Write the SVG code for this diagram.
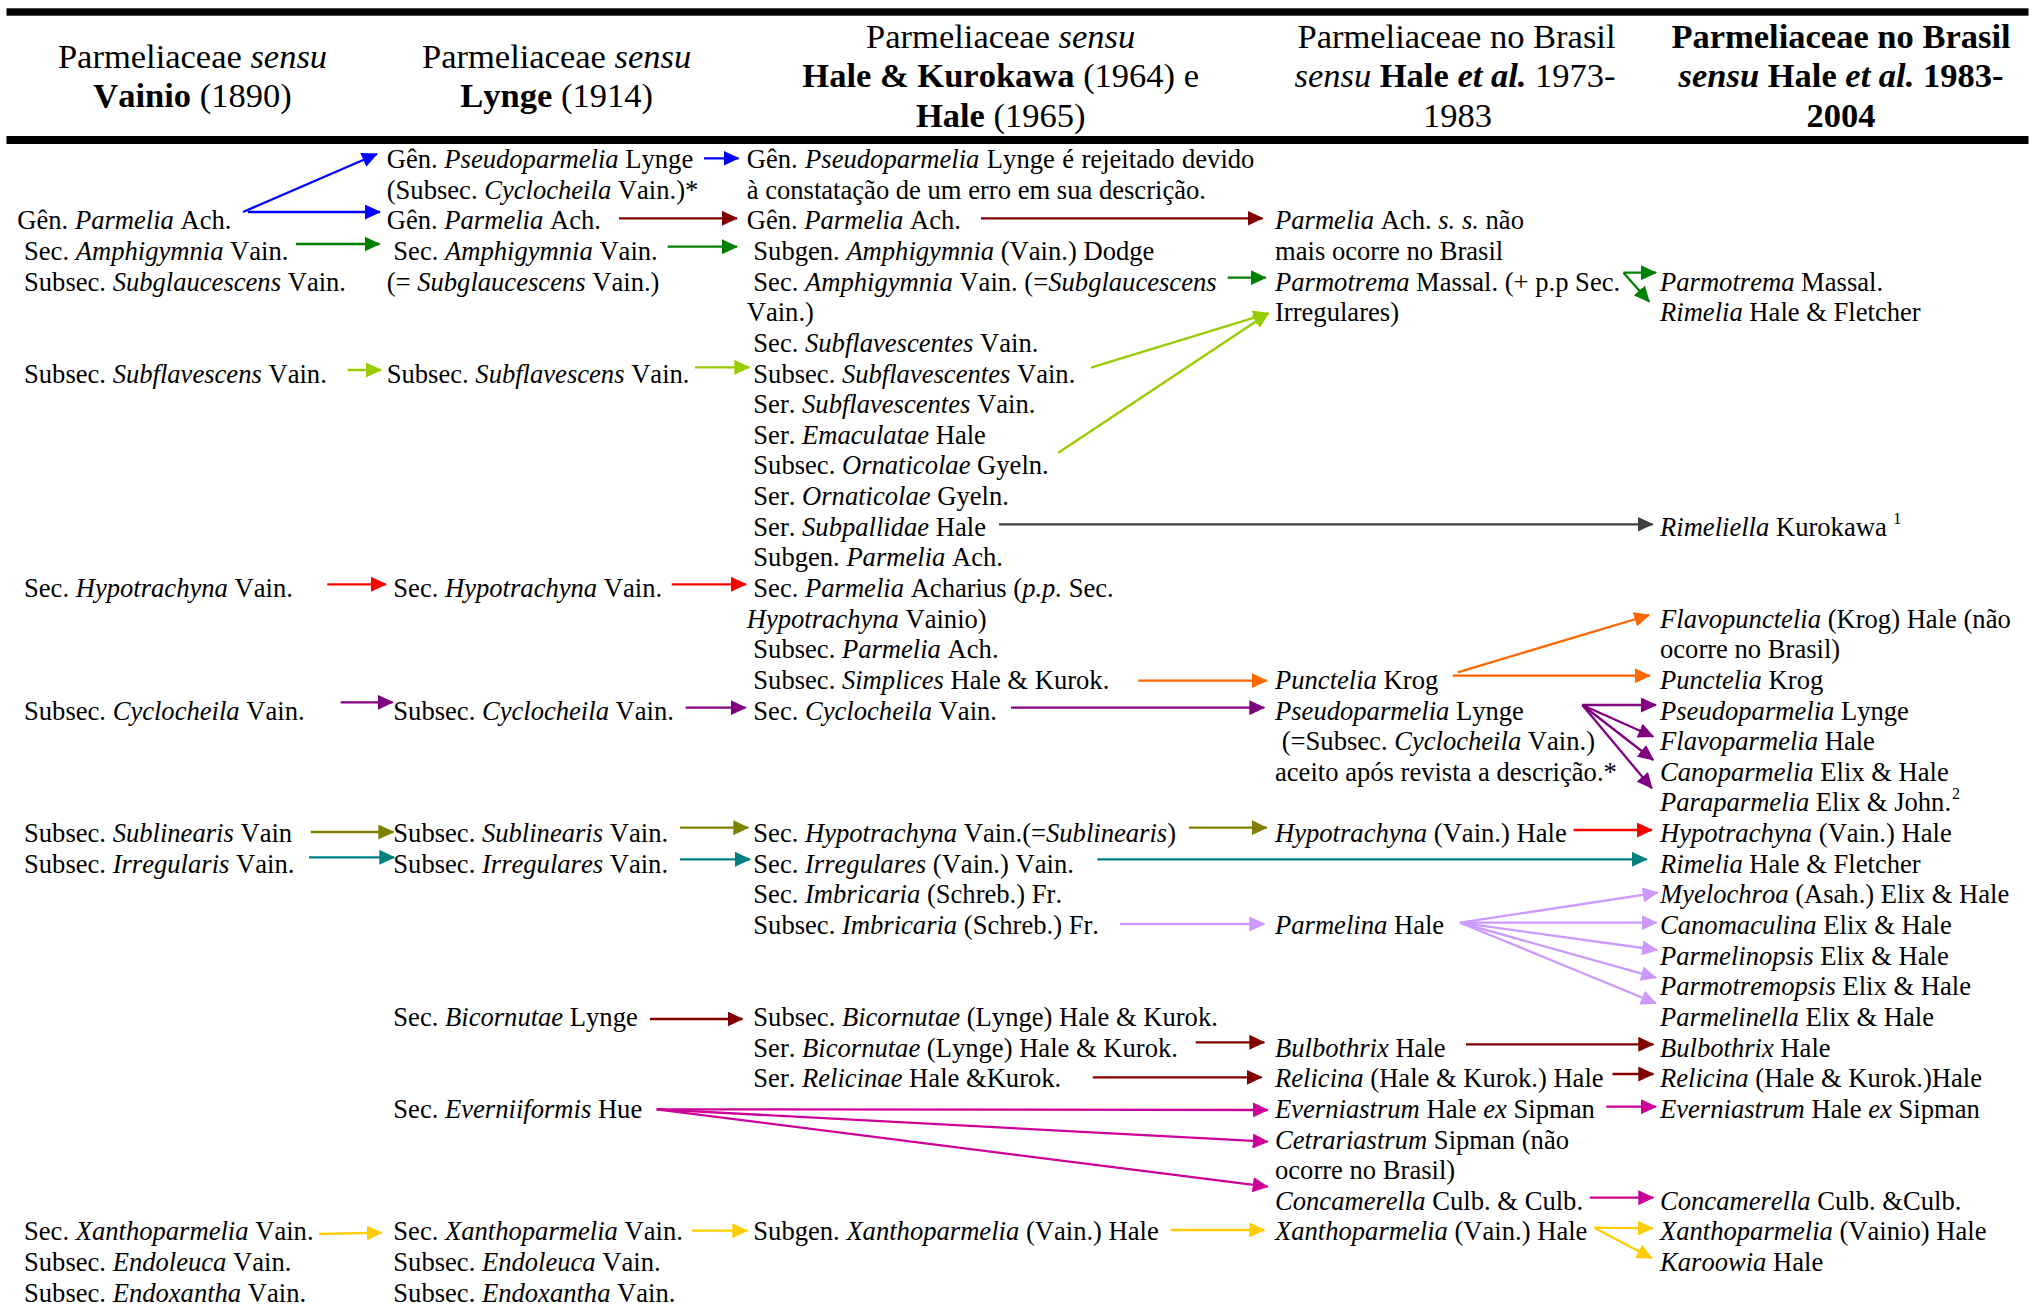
<svg xmlns="http://www.w3.org/2000/svg" width="2035" height="1305" viewBox="0 0 2035 1305">
<style>
.t{font-family:"Liberation Serif","Times New Roman",serif;font-size:26.6px;fill:#000;font-kerning:none}
.h{font-family:"Liberation Serif","Times New Roman",serif;font-size:34.5px;fill:#000;text-anchor:middle;font-kerning:none}
.sup{font-size:16px}
.i{font-style:italic}
.b{font-weight:bold}
#connectors line{stroke-width:2.3;fill:none}
.blue{stroke:#0000FF;marker-end:url(#m-blue)}
.dred{stroke:#800000;marker-end:url(#m-dred)}
.green{stroke:#008000;marker-end:url(#m-green)}
.ygreen{stroke:#99CC00;marker-end:url(#m-ygreen)}
.gray{stroke:#404040;marker-end:url(#m-gray)}
.red{stroke:#FF0000;marker-end:url(#m-red)}
.purple{stroke:#800080;marker-end:url(#m-purple)}
.orange{stroke:#FF6600;marker-end:url(#m-orange)}
.olive{stroke:#808000;marker-end:url(#m-olive)}
.teal{stroke:#008080;marker-end:url(#m-teal)}
.lpurple{stroke:#CC99FF;marker-end:url(#m-lpurple)}
.magenta{stroke:#CC0099;marker-end:url(#m-magenta)}
.yellow{stroke:#FFCC00;marker-end:url(#m-yellow)}
</style>
<defs>
<marker id="m-blue" viewBox="0 0 16 15" refX="15" refY="7.5" markerWidth="16" markerHeight="15" markerUnits="userSpaceOnUse" orient="auto"><path d="M0,0 L16,7.5 L0,15 z" fill="#0000FF"/></marker>
<marker id="m-dred" viewBox="0 0 16 15" refX="15" refY="7.5" markerWidth="16" markerHeight="15" markerUnits="userSpaceOnUse" orient="auto"><path d="M0,0 L16,7.5 L0,15 z" fill="#800000"/></marker>
<marker id="m-green" viewBox="0 0 16 15" refX="15" refY="7.5" markerWidth="16" markerHeight="15" markerUnits="userSpaceOnUse" orient="auto"><path d="M0,0 L16,7.5 L0,15 z" fill="#008000"/></marker>
<marker id="m-ygreen" viewBox="0 0 16 15" refX="15" refY="7.5" markerWidth="16" markerHeight="15" markerUnits="userSpaceOnUse" orient="auto"><path d="M0,0 L16,7.5 L0,15 z" fill="#99CC00"/></marker>
<marker id="m-gray" viewBox="0 0 16 15" refX="15" refY="7.5" markerWidth="16" markerHeight="15" markerUnits="userSpaceOnUse" orient="auto"><path d="M0,0 L16,7.5 L0,15 z" fill="#404040"/></marker>
<marker id="m-red" viewBox="0 0 16 15" refX="15" refY="7.5" markerWidth="16" markerHeight="15" markerUnits="userSpaceOnUse" orient="auto"><path d="M0,0 L16,7.5 L0,15 z" fill="#FF0000"/></marker>
<marker id="m-purple" viewBox="0 0 16 15" refX="15" refY="7.5" markerWidth="16" markerHeight="15" markerUnits="userSpaceOnUse" orient="auto"><path d="M0,0 L16,7.5 L0,15 z" fill="#800080"/></marker>
<marker id="m-orange" viewBox="0 0 16 15" refX="15" refY="7.5" markerWidth="16" markerHeight="15" markerUnits="userSpaceOnUse" orient="auto"><path d="M0,0 L16,7.5 L0,15 z" fill="#FF6600"/></marker>
<marker id="m-olive" viewBox="0 0 16 15" refX="15" refY="7.5" markerWidth="16" markerHeight="15" markerUnits="userSpaceOnUse" orient="auto"><path d="M0,0 L16,7.5 L0,15 z" fill="#808000"/></marker>
<marker id="m-teal" viewBox="0 0 16 15" refX="15" refY="7.5" markerWidth="16" markerHeight="15" markerUnits="userSpaceOnUse" orient="auto"><path d="M0,0 L16,7.5 L0,15 z" fill="#008080"/></marker>
<marker id="m-lpurple" viewBox="0 0 16 15" refX="15" refY="7.5" markerWidth="16" markerHeight="15" markerUnits="userSpaceOnUse" orient="auto"><path d="M0,0 L16,7.5 L0,15 z" fill="#CC99FF"/></marker>
<marker id="m-magenta" viewBox="0 0 16 15" refX="15" refY="7.5" markerWidth="16" markerHeight="15" markerUnits="userSpaceOnUse" orient="auto"><path d="M0,0 L16,7.5 L0,15 z" fill="#CC0099"/></marker>
<marker id="m-yellow" viewBox="0 0 16 15" refX="15" refY="7.5" markerWidth="16" markerHeight="15" markerUnits="userSpaceOnUse" orient="auto"><path d="M0,0 L16,7.5 L0,15 z" fill="#FFCC00"/></marker>
</defs>
<rect width="2035" height="1305" fill="#fff"/>
<g id="rules">
<rect x="6.5" y="8.3" width="2022" height="7.4" fill="#000"/>
<rect x="6.5" y="136" width="2022" height="8" fill="#000"/>
</g>
<g id="headers">
<g id="h1"><text class="h" x="192.5" y="68.3">Parmeliaceae <tspan class="i">sensu</tspan></text><text class="h" x="192.5" y="107.3"><tspan class="b">Vainio</tspan> (1890)</text></g>
<g id="h2"><text class="h" x="556.6" y="68.3">Parmeliaceae <tspan class="i">sensu</tspan></text><text class="h" x="556.6" y="107.3"><tspan class="b">Lynge</tspan> (1914)</text></g>
<g id="h3"><text class="h" x="1000.7" y="48.3">Parmeliaceae <tspan class="i">sensu</tspan></text><text class="h" x="1000.7" y="87.3"><tspan class="b">Hale &amp; Kurokawa</tspan> (1964) e</text><text class="h" x="1000.7" y="126.7"><tspan class="b">Hale</tspan> (1965)</text></g>
<g id="h4"><text class="h" x="1456.5" y="48.3">Parmeliaceae no Brasil</text><text class="h" x="1455" y="87.3"><tspan class="i">sensu</tspan> <tspan class="b">Hale <tspan class="i">et al.</tspan></tspan> 1973-</text><text class="h" x="1457.5" y="126.7">1983</text></g>
<g id="h5"><text class="h b" x="1841" y="48.3" font-size="34.7">Parmeliaceae no Brasil</text><text class="h b" x="1841" y="87.3" font-size="34.7"><tspan class="i">sensu</tspan> Hale <tspan class="i">et al.</tspan> 1983-</text><text class="h b" x="1841" y="126.7" font-size="34.7">2004</text></g>
</g>
<g id="col1">
<g id="v-parmelia"><text class="t" x="17.3" y="229.3">Gên. <tspan class="i">Parmelia</tspan> Ach.</text></g>
<g id="v-amphigymnia"><text class="t" x="24" y="259.9">Sec. <tspan class="i">Amphigymnia</tspan> Vain.</text><text class="t" x="24" y="290.6">Subsec. <tspan class="i">Subglaucescens</tspan> Vain.</text></g>
<g id="v-subflavescens"><text class="t" x="24" y="382.5">Subsec. <tspan class="i">Subflavescens</tspan> Vain.</text></g>
<g id="v-hypotrachyna"><text class="t" x="24" y="597">Sec. <tspan class="i">Hypotrachyna</tspan> Vain.</text></g>
<g id="v-cyclocheila"><text class="t" x="24" y="719.5">Subsec. <tspan class="i">Cyclocheila</tspan> Vain.</text></g>
<g id="v-sublinearis"><text class="t" x="24" y="842.1">Subsec. <tspan class="i">Sublinearis</tspan> Vain</text></g>
<g id="v-irregularis"><text class="t" x="24" y="872.7">Subsec. <tspan class="i">Irregularis</tspan> Vain.</text></g>
<g id="v-xanthoparmelia"><text class="t" x="24" y="1240.4">Sec. <tspan class="i">Xanthoparmelia</tspan> Vain.</text><text class="t" x="24" y="1271">Subsec. <tspan class="i">Endoleuca</tspan> Vain.</text><text class="t" x="24" y="1301.7">Subsec. <tspan class="i">Endoxantha</tspan> Vain.</text></g>
</g>
<g id="col2">
<g id="l-pseudoparmelia"><text class="t" x="386.7" y="168">Gên. <tspan class="i">Pseudoparmelia</tspan> Lynge</text><text class="t" x="386.7" y="198.6">(Subsec. <tspan class="i">Cyclocheila</tspan> Vain.)*</text></g>
<g id="l-parmelia"><text class="t" x="386.7" y="229.3">Gên. <tspan class="i">Parmelia</tspan> Ach.</text></g>
<g id="l-amphigymnia"><text class="t" x="393.3" y="259.9">Sec. <tspan class="i">Amphigymnia</tspan> Vain.</text><text class="t" x="386.7" y="290.6">(= <tspan class="i">Subglaucescens</tspan> Vain.)</text></g>
<g id="l-subflavescens"><text class="t" x="386.7" y="382.5">Subsec. <tspan class="i">Subflavescens</tspan> Vain.</text></g>
<g id="l-hypotrachyna"><text class="t" x="393.3" y="597">Sec. <tspan class="i">Hypotrachyna</tspan> Vain.</text></g>
<g id="l-cyclocheila"><text class="t" x="393.3" y="719.5">Subsec. <tspan class="i">Cyclocheila</tspan> Vain.</text></g>
<g id="l-sublinearis"><text class="t" x="393.3" y="842.1">Subsec. <tspan class="i">Sublinearis</tspan> Vain.</text></g>
<g id="l-irregulares"><text class="t" x="393.3" y="872.7">Subsec. <tspan class="i">Irregulares</tspan> Vain.</text></g>
<g id="l-bicornutae"><text class="t" x="393.3" y="1025.9">Sec. <tspan class="i">Bicornutae</tspan> Lynge</text></g>
<g id="l-everniiformis"><text class="t" x="393.3" y="1117.8">Sec. <tspan class="i">Everniiformis</tspan> Hue</text></g>
<g id="l-xanthoparmelia"><text class="t" x="393.3" y="1240.4">Sec. <tspan class="i">Xanthoparmelia</tspan> Vain.</text><text class="t" x="393.3" y="1271">Subsec. <tspan class="i">Endoleuca</tspan> Vain.</text><text class="t" x="393.3" y="1301.7">Subsec. <tspan class="i">Endoxantha</tspan> Vain.</text></g>
</g>
<g id="col3">
<g id="hk-pseudoparmelia"><text class="t" x="746.7" y="168" word-spacing="0.8">Gên. <tspan class="i">Pseudoparmelia</tspan> Lynge é rejeitado devido</text><text class="t" x="746.7" y="198.6">à constatação de um erro em sua descrição.</text></g>
<g id="hk-parmelia"><text class="t" x="746.7" y="229.3">Gên. <tspan class="i">Parmelia</tspan> Ach.</text></g>
<g id="hk-amphigymnia"><text class="t" x="753.3" y="259.9">Subgen. <tspan class="i">Amphigymnia</tspan> (Vain.) Dodge</text><text class="t" x="753.3" y="290.6">Sec. <tspan class="i">Amphigymnia</tspan> Vain. (=<tspan class="i">Subglaucescens</tspan></text><text class="t" x="746.7" y="321.2">Vain.)</text></g>
<g id="hk-subflavescentes"><text class="t" x="753.3" y="351.8">Sec. <tspan class="i">Subflavescentes</tspan> Vain.</text><text class="t" x="753.3" y="382.5">Subsec. <tspan class="i">Subflavescentes</tspan> Vain.</text><text class="t" x="753.3" y="413.1">Ser. <tspan class="i">Subflavescentes</tspan> Vain.</text><text class="t" x="753.3" y="443.8">Ser. <tspan class="i">Emaculatae</tspan> Hale</text></g>
<g id="hk-ornaticolae"><text class="t" x="753.3" y="474.4">Subsec. <tspan class="i">Ornaticolae</tspan> Gyeln.</text><text class="t" x="753.3" y="505">Ser. <tspan class="i">Ornaticolae</tspan> Gyeln.</text></g>
<g id="hk-subpallidae"><text class="t" x="753.3" y="535.7">Ser. <tspan class="i">Subpallidae</tspan> Hale</text></g>
<g id="hk-subgen-parmelia"><text class="t" x="753.3" y="566.3">Subgen. <tspan class="i">Parmelia</tspan> Ach.</text><text class="t" x="753.3" y="597">Sec. <tspan class="i">Parmelia</tspan> Acharius (<tspan class="i">p.p.</tspan> Sec.</text><text class="t" x="746.7" y="627.6"><tspan class="i">Hypotrachyna</tspan> Vainio)</text><text class="t" x="753.3" y="658.2">Subsec. <tspan class="i">Parmelia</tspan> Ach.</text></g>
<g id="hk-simplices"><text class="t" x="753.3" y="688.9">Subsec. <tspan class="i">Simplices</tspan> Hale &amp; Kurok.</text></g>
<g id="hk-cyclocheila"><text class="t" x="753.3" y="719.5">Sec. <tspan class="i">Cyclocheila</tspan> Vain.</text></g>
<g id="hk-hypotrachyna"><text class="t" x="753.3" y="842.1">Sec. <tspan class="i">Hypotrachyna</tspan> Vain.(=<tspan class="i">Sublinearis</tspan>)</text></g>
<g id="hk-irregulares"><text class="t" x="753.3" y="872.7">Sec. <tspan class="i">Irregulares</tspan> (Vain.) Vain.</text></g>
<g id="hk-imbricaria"><text class="t" x="753.3" y="903.4">Sec. <tspan class="i">Imbricaria</tspan> (Schreb.) Fr.</text><text class="t" x="753.3" y="934">Subsec. <tspan class="i">Imbricaria</tspan> (Schreb.) Fr.</text></g>
<g id="hk-bicornutae"><text class="t" x="753.3" y="1025.9">Subsec. <tspan class="i">Bicornutae</tspan> (Lynge) Hale &amp; Kurok.</text><text class="t" x="753.3" y="1056.6">Ser. <tspan class="i">Bicornutae</tspan> (Lynge) Hale &amp; Kurok.</text></g>
<g id="hk-relicinae"><text class="t" x="753.3" y="1087.2">Ser. <tspan class="i">Relicinae</tspan> Hale &amp;Kurok.</text></g>
<g id="hk-xanthoparmelia"><text class="t" x="753.3" y="1240.4">Subgen. <tspan class="i">Xanthoparmelia</tspan> (Vain.) Hale</text></g>
</g>
<g id="col4">
<g id="b73-parmelia"><text class="t" x="1275" y="229.3"><tspan class="i">Parmelia</tspan> Ach. <tspan class="i">s. s.</tspan> não</text><text class="t" x="1275" y="259.9">mais ocorre no Brasil</text></g>
<g id="b73-parmotrema"><text class="t" x="1275" y="290.6"><tspan class="i">Parmotrema</tspan> Massal. (+ p.p Sec.</text><text class="t" x="1275" y="321.2">Irregulares)</text></g>
<g id="b73-punctelia"><text class="t" x="1275" y="688.9"><tspan class="i">Punctelia</tspan> Krog</text></g>
<g id="b73-pseudoparmelia"><text class="t" x="1275" y="719.5"><tspan class="i">Pseudoparmelia</tspan> Lynge</text><text class="t" x="1281.7" y="750.2">(=Subsec. <tspan class="i">Cyclocheila</tspan> Vain.)</text><text class="t" x="1275" y="780.8">aceito após revista a descrição.*</text></g>
<g id="b73-hypotrachyna"><text class="t" x="1275" y="842.1"><tspan class="i">Hypotrachyna</tspan> (Vain.) Hale</text></g>
<g id="b73-parmelina"><text class="t" x="1275" y="934"><tspan class="i">Parmelina</tspan> Hale</text></g>
<g id="b73-bulbothrix"><text class="t" x="1275" y="1056.6"><tspan class="i">Bulbothrix</tspan> Hale</text></g>
<g id="b73-relicina"><text class="t" x="1275" y="1087.2"><tspan class="i">Relicina</tspan> (Hale &amp; Kurok.) Hale</text></g>
<g id="b73-everniastrum"><text class="t" x="1275" y="1117.8"><tspan class="i">Everniastrum</tspan> Hale <tspan class="i">ex</tspan> Sipman</text></g>
<g id="b73-cetrariastrum"><text class="t" x="1275" y="1148.5"><tspan class="i">Cetrariastrum</tspan> Sipman (não</text><text class="t" x="1275" y="1179.1">ocorre no Brasil)</text></g>
<g id="b73-concamerella"><text class="t" x="1275" y="1209.8"><tspan class="i">Concamerella</tspan> Culb. &amp; Culb.</text></g>
<g id="b73-xanthoparmelia"><text class="t" x="1275" y="1240.4"><tspan class="i">Xanthoparmelia</tspan> (Vain.) Hale</text></g>
</g>
<g id="col5">
<g id="b83-parmotrema"><text class="t" x="1660" y="290.6"><tspan class="i">Parmotrema</tspan> Massal.</text></g>
<g id="b83-rimelia1"><text class="t" x="1660" y="321.2"><tspan class="i">Rimelia</tspan> Hale &amp; Fletcher</text></g>
<g id="b83-rimeliella"><text class="t" x="1660" y="535.7"><tspan class="i">Rimeliella</tspan> Kurokawa <tspan class="sup" dy="-12">1</tspan></text></g>
<g id="b83-flavopunctelia"><text class="t" x="1660" y="627.6"><tspan class="i">Flavopunctelia</tspan> (Krog) Hale (não</text><text class="t" x="1660" y="658.2">ocorre no Brasil)</text></g>
<g id="b83-punctelia"><text class="t" x="1660" y="688.9"><tspan class="i">Punctelia</tspan> Krog</text></g>
<g id="b83-pseudoparmelia"><text class="t" x="1660" y="719.5"><tspan class="i">Pseudoparmelia</tspan> Lynge</text></g>
<g id="b83-flavoparmelia"><text class="t" x="1660" y="750.2"><tspan class="i">Flavoparmelia</tspan> Hale</text></g>
<g id="b83-canoparmelia"><text class="t" x="1660" y="780.8"><tspan class="i">Canoparmelia</tspan> Elix &amp; Hale</text></g>
<g id="b83-paraparmelia"><text class="t" x="1660" y="811.4"><tspan class="i">Paraparmelia</tspan> Elix &amp; John.<tspan class="sup" dx="1" dy="-12">2</tspan></text></g>
<g id="b83-hypotrachyna"><text class="t" x="1660" y="842.1"><tspan class="i">Hypotrachyna</tspan> (Vain.) Hale</text></g>
<g id="b83-rimelia2"><text class="t" x="1660" y="872.7"><tspan class="i">Rimelia</tspan> Hale &amp; Fletcher</text></g>
<g id="b83-myelochroa"><text class="t" x="1660" y="903.4"><tspan class="i">Myelochroa</tspan> (Asah.) Elix &amp; Hale</text></g>
<g id="b83-canomaculina"><text class="t" x="1660" y="934"><tspan class="i">Canomaculina</tspan> Elix &amp; Hale</text></g>
<g id="b83-parmelinopsis"><text class="t" x="1660" y="964.6"><tspan class="i">Parmelinopsis</tspan> Elix &amp; Hale</text></g>
<g id="b83-parmotremopsis"><text class="t" x="1660" y="995.3"><tspan class="i">Parmotremopsis</tspan> Elix &amp; Hale</text></g>
<g id="b83-parmelinella"><text class="t" x="1660" y="1025.9"><tspan class="i">Parmelinella</tspan> Elix &amp; Hale</text></g>
<g id="b83-bulbothrix"><text class="t" x="1660" y="1056.6"><tspan class="i">Bulbothrix</tspan> Hale</text></g>
<g id="b83-relicina"><text class="t" x="1660" y="1087.2"><tspan class="i">Relicina</tspan> (Hale &amp; Kurok.)Hale</text></g>
<g id="b83-everniastrum"><text class="t" x="1660" y="1117.8"><tspan class="i">Everniastrum</tspan> Hale <tspan class="i">ex</tspan> Sipman</text></g>
<g id="b83-concamerella"><text class="t" x="1660" y="1209.8"><tspan class="i">Concamerella</tspan> Culb. &amp;Culb.</text></g>
<g id="b83-xanthoparmelia"><text class="t" x="1660" y="1240.4"><tspan class="i">Xanthoparmelia</tspan> (Vainio) Hale</text></g>
<g id="b83-karoowia"><text class="t" x="1660" y="1271"><tspan class="i">Karoowia</tspan> Hale</text></g>
</g>
<g id="connectors">
<line class="blue" x1="243" y1="212" x2="377" y2="154"/>
<line class="blue" x1="248" y1="212" x2="380" y2="212"/>
<line class="blue" x1="704" y1="158.3" x2="738.5" y2="158.3"/>
<line class="dred" x1="619" y1="218.3" x2="737" y2="218.3"/>
<line class="dred" x1="981" y1="218.3" x2="1262.5" y2="218.3"/>
<line class="dred" x1="650" y1="1019" x2="742.5" y2="1019"/>
<line class="dred" x1="1195.7" y1="1042.3" x2="1264.3" y2="1042.3"/>
<line class="dred" x1="1092.7" y1="1077.3" x2="1261.7" y2="1077.3"/>
<line class="dred" x1="1466" y1="1044.3" x2="1653.3" y2="1044.3"/>
<line class="dred" x1="1612.5" y1="1074" x2="1653.3" y2="1074"/>
<line class="green" x1="296" y1="244" x2="379.5" y2="244"/>
<line class="green" x1="667.7" y1="246.7" x2="737" y2="246.7"/>
<line class="green" x1="1227.7" y1="277.7" x2="1265.7" y2="277.7"/>
<line class="green" x1="1623.5" y1="272.7" x2="1656" y2="272.7"/>
<line class="green" x1="1623.5" y1="272.7" x2="1649.2" y2="301.7"/>
<line class="ygreen" x1="347.7" y1="370" x2="381" y2="370"/>
<line class="ygreen" x1="695" y1="367.3" x2="749.3" y2="367.3"/>
<line class="ygreen" x1="1091" y1="367.7" x2="1268.3" y2="313.3"/>
<line class="ygreen" x1="1058.3" y1="452.7" x2="1268.3" y2="313.3"/>
<line class="gray" x1="999" y1="524.3" x2="1652.6" y2="524.3"/>
<line class="red" x1="327.3" y1="584.3" x2="386" y2="584.3"/>
<line class="red" x1="671.7" y1="584.3" x2="746" y2="584.3"/>
<line class="red" x1="1573.7" y1="830" x2="1651.9" y2="830"/>
<line class="purple" x1="340.7" y1="702.3" x2="392.7" y2="702.3"/>
<line class="purple" x1="685.7" y1="707.7" x2="745.7" y2="707.7"/>
<line class="purple" x1="1011" y1="707.7" x2="1264.3" y2="707.7"/>
<line class="purple" x1="1582.3" y1="705" x2="1656" y2="705"/>
<line class="purple" x1="1582.3" y1="705" x2="1653.3" y2="736.7"/>
<line class="purple" x1="1582.3" y1="705" x2="1653.3" y2="760"/>
<line class="purple" x1="1582.3" y1="705" x2="1651.9" y2="788.3"/>
<line class="orange" x1="1138.3" y1="680.7" x2="1266.7" y2="680.7"/>
<line class="orange" x1="1457.7" y1="672.3" x2="1649.2" y2="615"/>
<line class="orange" x1="1452.7" y1="675.7" x2="1649.9" y2="675.7"/>
<line class="olive" x1="310.7" y1="832" x2="393.3" y2="832"/>
<line class="olive" x1="680" y1="827.7" x2="748.3" y2="827.7"/>
<line class="olive" x1="1189" y1="827.7" x2="1266.7" y2="827.7"/>
<line class="teal" x1="309" y1="857.3" x2="394.3" y2="857.3"/>
<line class="teal" x1="680" y1="859.3" x2="750" y2="859.3"/>
<line class="teal" x1="1097.3" y1="859.3" x2="1646.8" y2="859.3"/>
<line class="lpurple" x1="1120" y1="924" x2="1264.3" y2="924"/>
<line class="lpurple" x1="1460" y1="922.7" x2="1657.7" y2="892.7"/>
<line class="lpurple" x1="1460" y1="922.7" x2="1656.7" y2="922.7"/>
<line class="lpurple" x1="1460" y1="922.7" x2="1657.1" y2="950"/>
<line class="lpurple" x1="1460" y1="922.7" x2="1656" y2="977.7"/>
<line class="lpurple" x1="1460" y1="922.7" x2="1656" y2="1003.3"/>
<line class="magenta" x1="656.7" y1="1109.3" x2="1267.7" y2="1110"/>
<line class="magenta" x1="656.7" y1="1109.3" x2="1267.7" y2="1141.7"/>
<line class="magenta" x1="656.7" y1="1109.3" x2="1267.7" y2="1186.7"/>
<line class="magenta" x1="1606.3" y1="1106.7" x2="1656" y2="1106.7"/>
<line class="magenta" x1="1589.8" y1="1197.7" x2="1653.3" y2="1197.7"/>
<line class="yellow" x1="319.3" y1="1234" x2="381.7" y2="1232.7"/>
<line class="yellow" x1="691.7" y1="1230.7" x2="747.3" y2="1230.7"/>
<line class="yellow" x1="1170.7" y1="1230" x2="1264.3" y2="1230"/>
<line class="yellow" x1="1594.3" y1="1227.7" x2="1652.6" y2="1228.3"/>
<line class="yellow" x1="1594.3" y1="1227.7" x2="1651.9" y2="1258.3"/>
</g>
</svg>
